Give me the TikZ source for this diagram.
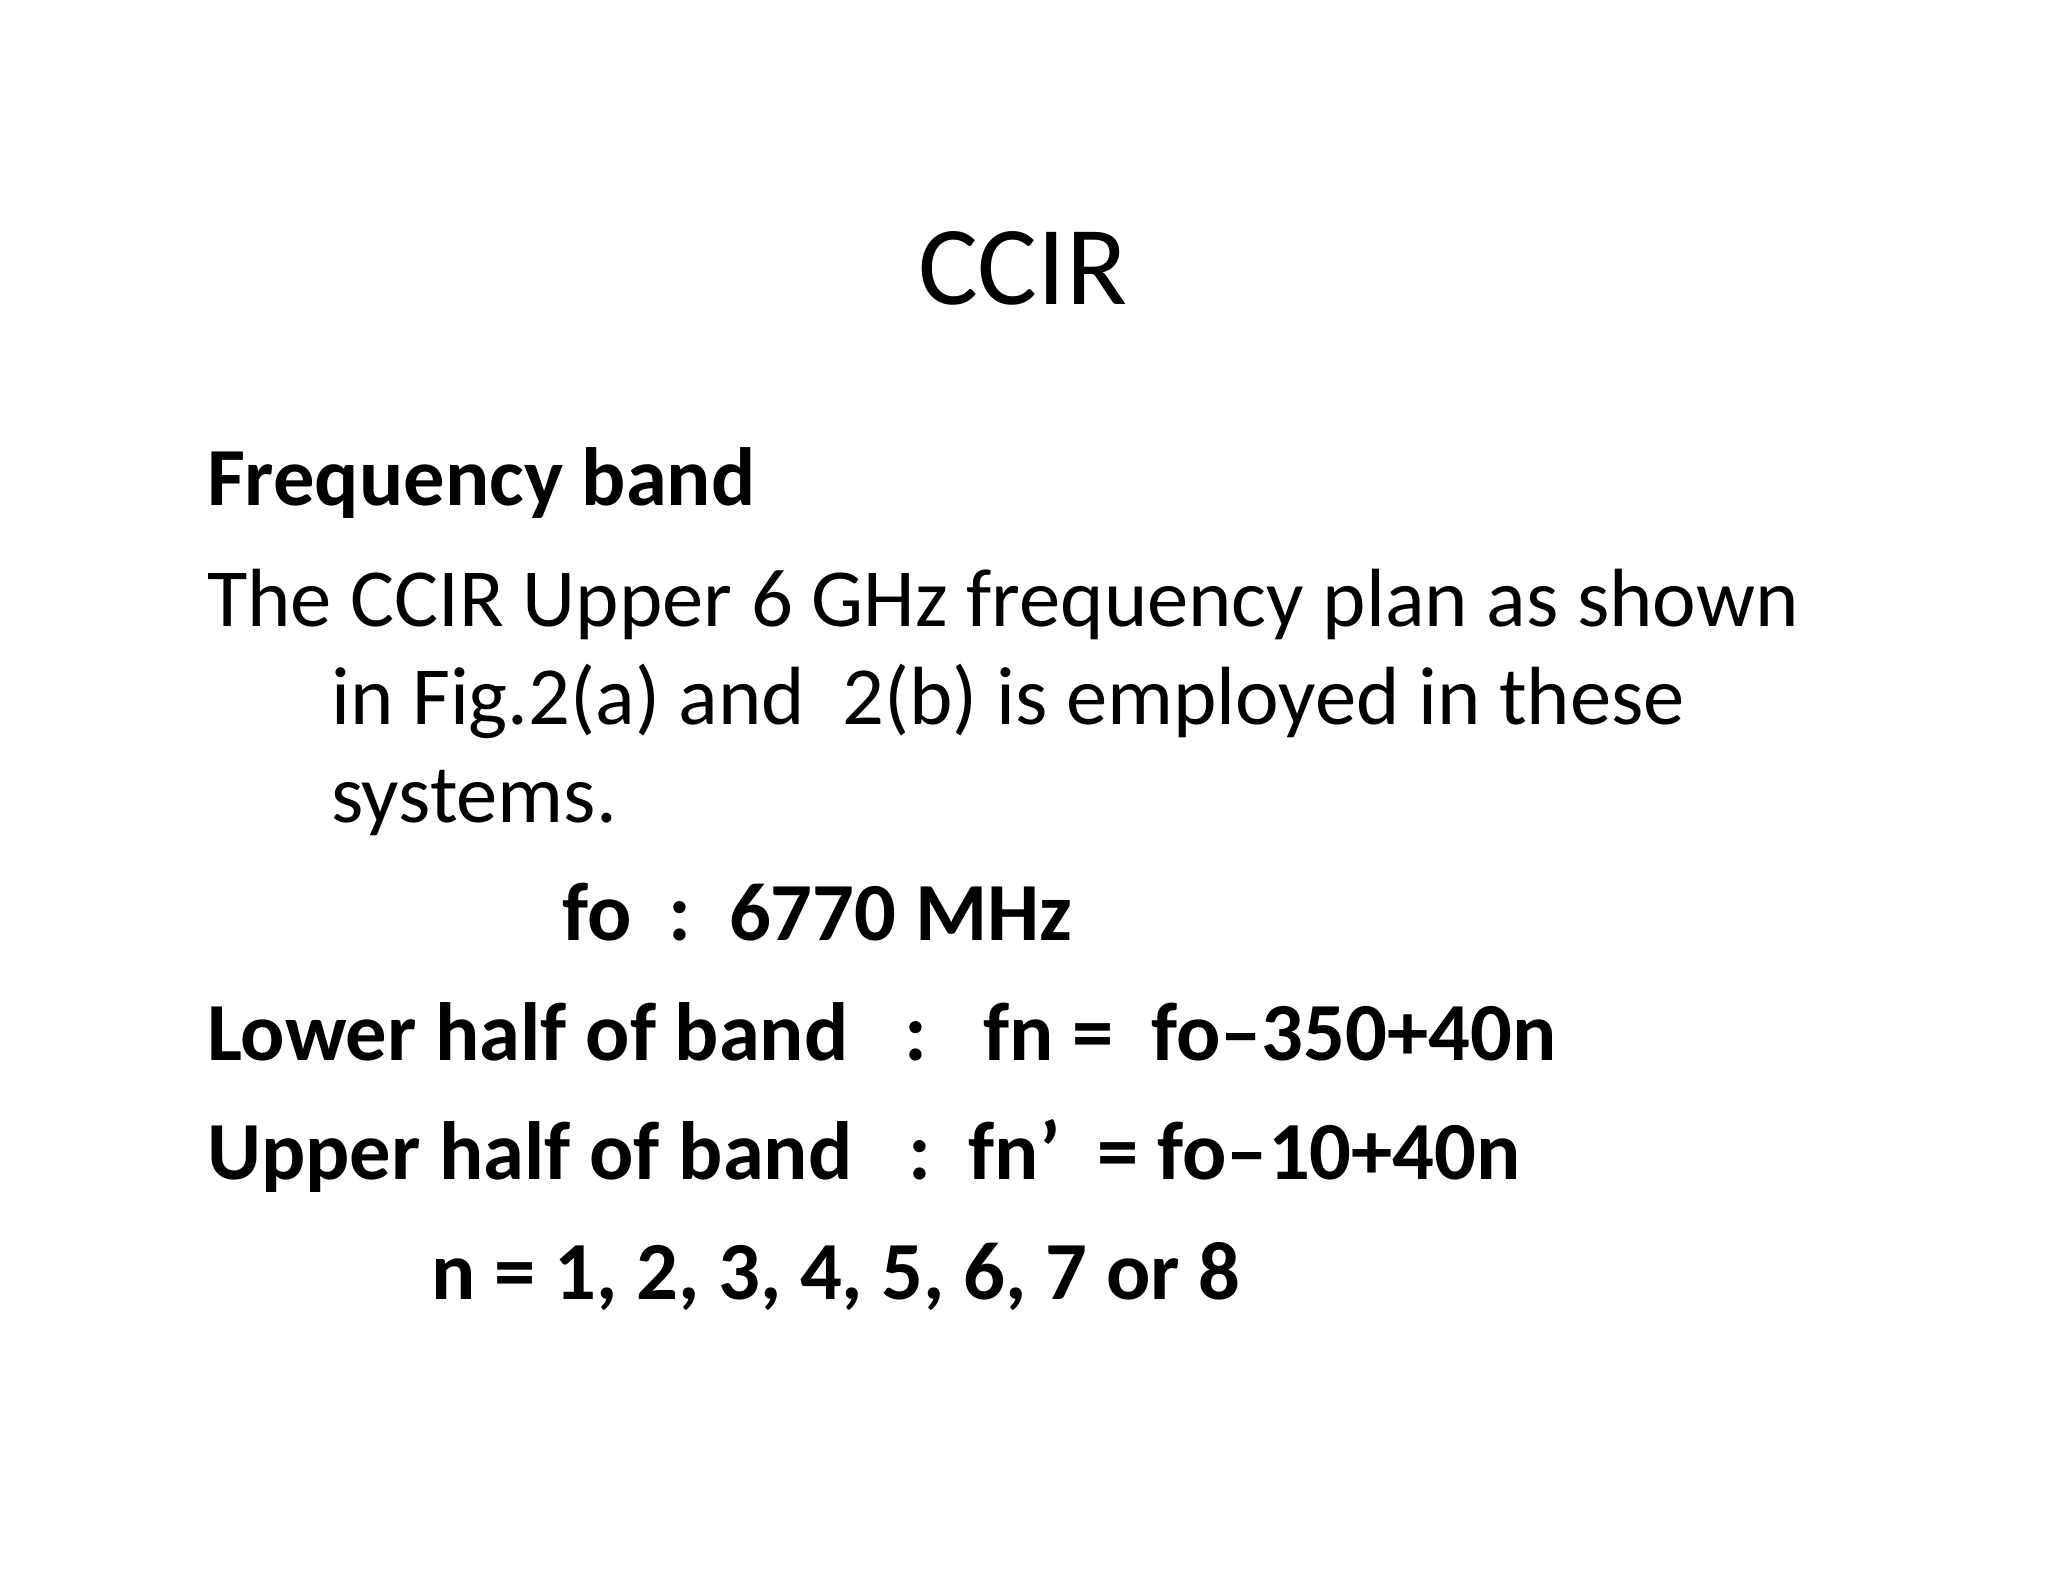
\documentclass[tikz,border=0pt]{standalone}
\usepackage{fontspec}
\setmainfont{Carlito}
\begin{document}
\begin{tikzpicture}[x=0.013061cm,y=-0.013061cm,
  body/.style={anchor=base west,inner sep=0pt,font=\fontsize{23.5}{28}\selectfont},
  bbody/.style={body,font=\fontsize{23.5}{28}\selectfont\bfseries}]
\useasboundingbox (0,0) rectangle (1568,1211);
\node[anchor=base,inner sep=0pt,font=\fontsize{32}{38}\selectfont] (title) at (783,233) {CCIR};
\node[bbody] (fb) at (158,387) {Frequency band};
\node[body] (l1) at (158,480) {The CCIR Upper 6 GHz frequency plan as shown};
\node[body] (l2) at (253,555) {in Fig.2(a) and\ \ 2(b) is employed in these};
\node[body] (l3) at (253,630) {systems.};
\node[bbody] (fo) at (430,720) {fo\ \ :\ \ 6770 MHz};
\node[bbody] (lo) at (158,812) {Lower half of band\ \ \ :\ \ \ fn =\ \ fo–350+40n};
\node[bbody] (up) at (158,903) {Upper half of band\ \ \ :\ \ fn\char"27\ \ = fo–10+40n};
\node[bbody] (n) at (330,995) {n = 1, 2, 3, 4, 5, 6, 7 or 8};
\end{tikzpicture}
\end{document}
